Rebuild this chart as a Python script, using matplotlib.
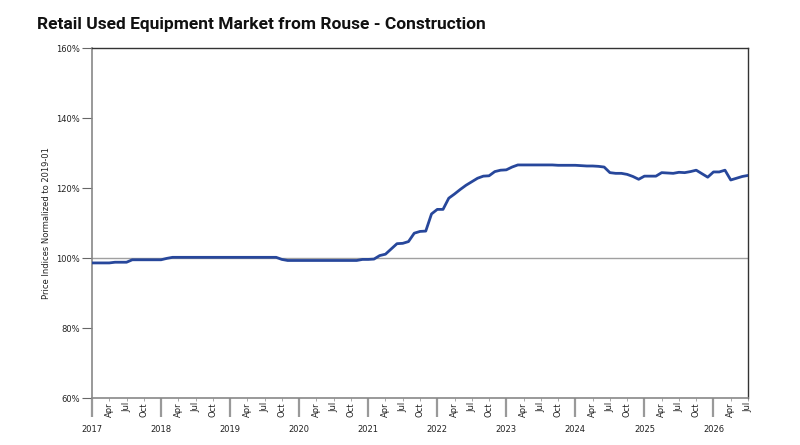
import matplotlib
matplotlib.use("Agg")
import matplotlib.pyplot as plt
import numpy as np

# monthly index values, Jan 2017 .. Jun 2026 (percent of 2019-01)
index_values = [
    98.6, 98.6, 98.6, 98.6, 98.8, 98.8, 98.8, 99.5, 99.5, 99.5, 99.5, 99.5,  # 2017
    99.5, 99.9, 100.2, 100.2, 100.2, 100.2, 100.2, 100.2, 100.2, 100.2, 100.2, 100.2,  # 2018
    100.2, 100.2, 100.2, 100.2, 100.2, 100.2, 100.2, 100.2, 100.2, 99.6, 99.3, 99.3,  # 2019
    99.3, 99.3, 99.3, 99.3, 99.3, 99.3, 99.3, 99.3, 99.3, 99.3, 99.3, 99.6,  # 2020
    99.6, 99.7, 100.7, 101.1, 102.6, 104.1, 104.2, 104.7, 107.1, 107.6, 107.7, 112.6,  # 2021
    113.9, 113.9, 117.1, 118.3, 119.6, 120.8, 121.8, 122.8, 123.4, 123.5, 124.7, 125.1,  # 2022
    125.2, 126.0, 126.6, 126.6, 126.6, 126.6, 126.6, 126.6, 126.6, 126.5, 126.5, 126.5,  # 2023
    126.5, 126.4, 126.3, 126.3, 126.2, 126.0, 124.4, 124.2, 124.2, 123.9, 123.3, 122.5,  # 2024
    123.4, 123.4, 123.4, 124.4, 124.3, 124.2, 124.5, 124.4, 124.7, 125.1, 124.1, 123.1,  # 2025
    124.6, 124.6, 125.1, 122.3, 122.8, 123.3, 123.6,  # 2026
]
years = [2017, 2018, 2019, 2020, 2021, 2022, 2023, 2024, 2025, 2026]
quarter_months = ["Apr", "Jul", "Oct"]
y_ticks = [60, 80, 100, 120, 140, 160]

months = np.arange(len(index_values))

fig = plt.figure(figsize=(8, 4.45), dpi=100)
ax = fig.add_axes([0.115, 0.1056, 0.82, 0.7864])

ax.axhline(100, color="#a0a0a0", lw=1.0, zorder=1)
ax.plot(months, index_values, color="#27479b", lw=2.0, zorder=3)

ax.set_xlim(0, 114)
ax.set_ylim(60, 160)

ax.set_yticks(y_ticks)
ax.set_yticklabels([f"{v}%" for v in y_ticks], fontsize=6, color="#222222")
ax.tick_params(axis="y", length=7, width=0.8, color="#666666", pad=2)
ax.set_ylabel("Price Indices Normalized to 2019-01", fontsize=6, color="#222222", labelpad=3)

# year separators as long major ticks, quarters as labelled minor ticks
major = [12 * i for i in range(len(years))]
minor = []
minor_labels = []
for i in range(len(years)):
    for q, name in enumerate(quarter_months):
        m = 12 * i + 3 * (q + 1)
        if m <= 114:
            minor.append(m)
            minor_labels.append(name)
ax.set_xticks(major)
ax.set_xticklabels([])
ax.set_xticks(minor, minor=True)
ax.set_xticklabels(minor_labels, minor=True, rotation=90, fontsize=6, color="#222222")
ax.tick_params(axis="x", which="major", length=13.5, width=1.6, color="#999999")
ax.tick_params(axis="x", which="minor", length=2, width=0.6, color="#999999", pad=1)

for i, yr in enumerate(years):
    ax.text(12 * i, -0.09, str(yr), transform=ax.get_xaxis_transform(),
            ha="center", va="center", fontsize=6, color="#222222")

for side in ["top", "right"]:
    ax.spines[side].set_color("#333333")
    ax.spines[side].set_linewidth(1.0)
for side in ["left", "bottom"]:
    ax.spines[side].set_color("#888888")
    ax.spines[side].set_linewidth(1.2)

fig.text(0.046, 0.944, "Retail Used Equipment Market from Rouse - Construction",
         fontsize=12.5, fontweight="bold", family="Roboto", color="#111111", va="center")

fig.savefig("out.png", dpi=100)
